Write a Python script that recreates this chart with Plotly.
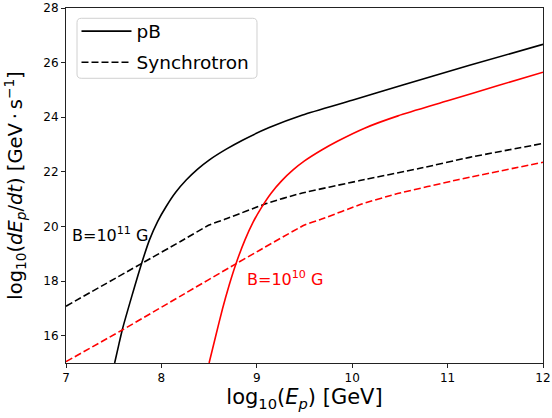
import plotly.graph_objects as go

# pB losses, B = 1e11 G
pb11_x = [7.51, 7.55, 7.59, 7.69, 7.79, 7.875, 7.96, 8.05, 8.15, 8.26, 8.38, 8.5, 8.68, 8.85, 9.13, 9.48, 10.0, 10.53, 11.23, 12.0]
pb11_y = [15.0, 15.62, 16.22, 17.45, 18.62, 19.51, 20.18, 20.73, 21.25, 21.70, 22.10, 22.43, 22.83, 23.16, 23.62, 24.08, 24.62, 25.18, 25.90, 26.67]
# pB losses, B = 1e10 G
pb10_x = [8.5, 8.57, 8.64, 8.71, 8.78, 8.875, 8.96, 9.05, 9.15, 9.26, 9.38, 9.5, 9.68, 9.85, 10.13, 10.48, 11.0, 11.53, 12.0]
pb10_y = [15.0, 16.0, 16.98, 17.85, 18.62, 19.50, 20.15, 20.70, 21.22, 21.67, 22.07, 22.40, 22.80, 23.13, 23.60, 24.05, 24.60, 25.16, 25.65]
# synchrotron losses, B = 1e11 G
syn11_x = [7.0, 7.79, 8.2, 8.5, 8.68, 9.1, 9.45, 10.08, 10.71, 11.23, 12.0]
syn11_y = [17.08, 18.64, 19.45, 20.05, 20.28, 20.84, 21.20, 21.68, 22.13, 22.53, 23.04]
# synchrotron losses, B = 1e10 G
syn10_x = [7.0, 7.595, 8.2, 8.785, 9.03, 9.5, 9.68, 10.1, 10.45, 11.12, 12.0]
syn10_y = [15.05, 16.22, 17.45, 18.64, 19.13, 20.05, 20.27, 20.82, 21.18, 21.72, 22.35]

x_ticks = [7, 8, 9, 10, 11, 12]
y_ticks = [16, 18, 20, 22, 24, 26, 28]

FONT = "DejaVu Sans"
DASH = "7px,3px"
fig = go.Figure()
fig.add_trace(go.Scatter(x=pb11_x, y=pb11_y, mode="lines", name="pB", legendgroup="a",
                         line=dict(color="black", width=1.6, shape="spline", smoothing=0.6)))
fig.add_trace(go.Scatter(x=syn11_x, y=syn11_y, mode="lines", name="Synchrotron", legendgroup="b",
                         line=dict(color="black", width=1.6, dash=DASH, shape="spline", smoothing=0.5)))
fig.add_trace(go.Scatter(x=pb10_x, y=pb10_y, mode="lines", showlegend=False,
                         line=dict(color="red", width=1.6, shape="spline", smoothing=0.6)))
fig.add_trace(go.Scatter(x=syn10_x, y=syn10_y, mode="lines", showlegend=False,
                         line=dict(color="red", width=1.6, dash=DASH, shape="spline", smoothing=0.5)))

fig.add_annotation(x=7.456, y=19.7, text="B=10<sup>11</sup> G", showarrow=False,
                   font=dict(family=FONT, size=16, color="black"))
fig.add_annotation(x=9.30, y=18.1, text="B=10<sup>10</sup> G", showarrow=False,
                   font=dict(family=FONT, size=16, color="red"))

# legend frame (rounded rectangle, paper coordinates)
x0, x1, y0, y1 = 0.0231, 0.4004, 0.802, 0.971
rx, ry = 0.009, 0.012
path = (f"M {x0+rx},{y0} L {x1-rx},{y0} Q {x1},{y0} {x1},{y0+ry} "
        f"L {x1},{y1-ry} Q {x1},{y1} {x1-rx},{y1} L {x0+rx},{y1} "
        f"Q {x0},{y1} {x0},{y1-ry} L {x0},{y0+ry} Q {x0},{y0} {x0+rx},{y0} Z")
fig.add_shape(type="path", path=path, xref="paper", yref="paper",
              line=dict(color="#d0d0d0", width=1), fillcolor="rgba(255,255,255,0.8)",
              layer="above")

axis_common = dict(showline=True, linecolor="#222", linewidth=1, mirror=True,
                   ticks="outside", ticklen=4, tickwidth=1, tickcolor="#222",
                   showgrid=False, zeroline=False, automargin=False,
                   tickfont=dict(family=FONT, size=12, color="black"))
fig.update_xaxes(range=[7, 12], tickvals=x_ticks,
                 title=dict(text="log<sub>10</sub>(<i>E<sub>p</sub></i>) [GeV]",
                            font=dict(family=FONT, size=21, color="black"), standoff=3),
                 **axis_common)
fig.update_yaxes(range=[15, 28], tickvals=y_ticks,
                 title=dict(text="log<sub>10</sub>(<i>dE<sub>p</sub></i>/<i>dt</i>) [GeV\u2009·\u2009s<sup>\u22121</sup>]",
                            font=dict(family=FONT, size=19.5, color="black")),
                 **axis_common)
fig.update_layout(
    width=552, height=418,
    margin=dict(l=66, r=9, t=8, b=55),
    paper_bgcolor="white", plot_bgcolor="white",
    font=dict(family=FONT),
    legend=dict(x=0.022, y=0.987, xanchor="left", yanchor="top",
                bgcolor="rgba(0,0,0,0)", borderwidth=0,
                font=dict(family=FONT, size=18.5, color="black"),
                tracegroupgap=4, itemwidth=50),
)
fig.write_html("out.html", config={"displayModeBar": False},
               post_script="document.body.style.margin='0';")
